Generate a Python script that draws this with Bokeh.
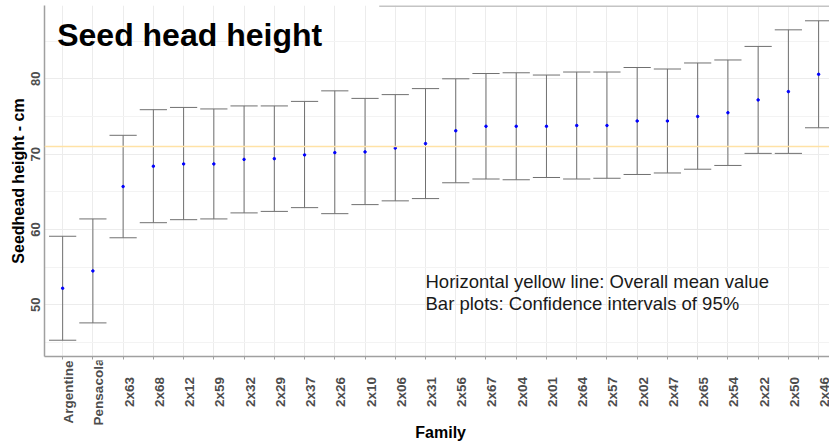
import math
from bokeh.plotting import figure
from bokeh.layouts import column
from bokeh.models import (Range1d, FixedTicker, ColumnDataSource, Label, Span,
                          CustomJSTickFormatter)
from bokeh.embed import file_html
from bokeh.resources import INLINE

# ---- data ----
families = ["Argentine", "Pensacola", "2x63", "2x68", "2x12", "2x59", "2x32", "2x29",
            "2x37", "2x26", "2x10", "2x06", "2x31", "2x56", "2x67", "2x04", "2x01",
            "2x64", "2x57", "2x02", "2x47", "2x65", "2x54", "2x22", "2x50", "2x46"]
means = [52.2, 54.5, 65.7, 68.4, 68.7, 68.7, 69.3, 69.4, 69.9, 70.2, 70.3, 70.8, 71.4,
         73.1, 73.7, 73.7, 73.7, 73.8, 73.8, 74.4, 74.4, 75.0, 75.5, 77.2, 78.3, 80.6]
lower = [45.3, 47.6, 58.9, 60.9, 61.3, 61.4, 62.2, 62.4, 62.9, 62.1, 63.3, 63.8, 64.1,
         66.2, 66.7, 66.6, 66.9, 66.7, 66.8, 67.3, 67.5, 68.0, 68.5, 70.1, 70.1, 73.5]
upper = [59.1, 61.4, 72.5, 75.9, 76.2, 76.0, 76.4, 76.4, 77.0, 78.4, 77.4, 77.9, 78.7,
         80.0, 80.7, 80.8, 80.5, 80.9, 80.9, 81.5, 81.3, 82.1, 82.5, 84.3, 86.5, 87.7]
overall_mean = 71.0
y_ticks = [50, 60, 70, 80]
y_minor_ticks = [45, 55, 65, 75, 85]
title_text = "Seed head height"
x_title = "Family"
y_title = "Seedhead height - cm"
notes = ["Horizontal yellow line: Overall mean value",
         "Bar plots: Confidence intervals of 95%"]

FONT = "Liberation Sans"
TICK_COLOR = "#4d4d4d"
BAR_COLOR = "#707070"
W = 829
H_MAIN = 360
H_STRIP = 85

idx = list(range(len(families)))
half_cap = 0.45
src = ColumnDataSource(dict(
    x=idx, fam=families, m=means, lo=lower, hi=upper,
    x0=[i - half_cap for i in idx], x1=[i + half_cap for i in idx],
))

x_range = Range1d(-0.6, 25.36)
y_range = Range1d(43.14, 89.73)

p = figure(width=W, height=H_MAIN, output_backend="svg", toolbar_location=None,
           x_range=x_range, y_range=y_range,
           min_border_left=44, min_border_right=0, min_border_top=5,
           min_border_bottom=4)
p.outline_line_color = None
p.background_fill_color = "white"
p.border_fill_color = "white"

# grids
p.xaxis.ticker = FixedTicker(ticks=idx)
p.yaxis.ticker = FixedTicker(ticks=y_ticks, minor_ticks=y_minor_ticks)
p.xgrid.grid_line_color = "#ececec"
p.ygrid.grid_line_color = "#ececec"
p.ygrid.minor_grid_line_color = "#f3f3f3"

# x axis: line and ticks here, labels in the strip below
p.xaxis.formatter = CustomJSTickFormatter(code="return ''")
p.xaxis.major_label_text_font_size = "0px"
p.xaxis.major_label_standoff = 0
p.xaxis.axis_line_color = "#a0a0a0"
p.xaxis.axis_line_width = 1.5
p.xaxis.major_tick_line_color = "#a0a0a0"
p.xaxis.major_tick_out = 3
p.xaxis.major_tick_in = 0
p.xaxis.minor_tick_line_color = None

# y axis
p.yaxis.axis_label = y_title
p.yaxis.axis_label_text_font = FONT
p.yaxis.axis_label_text_font_style = "bold"
p.yaxis.axis_label_text_font_size = "16px"
p.yaxis.axis_label_text_color = "black"
p.yaxis.axis_label_standoff = 2
p.yaxis.major_label_orientation = "vertical"
p.yaxis.major_label_text_font = FONT
p.yaxis.major_label_text_font_style = "bold"
p.yaxis.major_label_text_font_size = "13px"
p.yaxis.major_label_text_color = TICK_COLOR
p.yaxis.major_label_standoff = 0
p.yaxis.major_tick_out = 0
p.yaxis.major_tick_in = 0
p.yaxis.minor_tick_line_color = None
p.yaxis.axis_line_color = "#a0a0a0"
p.yaxis.axis_line_width = 1.5

# partial top border (right of the title)
p.segment(x0=10.47, y0=y_range.end, x1=x_range.end, y1=y_range.end,
          line_color="#c4c4c4", line_width=3)

# overall mean line
p.add_layout(Span(location=overall_mean, dimension="width",
                  line_color="#ffe2a6", line_width=1.5))

# confidence interval bars
p.segment(x0="x", y0="lo", x1="x", y1="hi", source=src, line_color=BAR_COLOR, line_width=1)
p.segment(x0="x0", y0="hi", x1="x1", y1="hi", source=src, line_color=BAR_COLOR, line_width=1)
p.segment(x0="x0", y0="lo", x1="x1", y1="lo", source=src, line_color=BAR_COLOR, line_width=1)
p.scatter(x="x", y="m", source=src, marker="circle", size=2.5, color="#0000ff")

# title
p.add_layout(Label(x=-0.18, y=85.8, text=title_text, text_align="left",
                   text_baseline="middle", text_font=FONT, text_font_style="bold",
                   text_font_size="32px", text_color="black"))

# notes
p.add_layout(Label(x=12, y=53.1, text=notes[0], text_align="left",
                   text_baseline="middle", text_font=FONT, text_font_size="18.5px",
                   text_color="#1a1a1a"))
p.add_layout(Label(x=12, y=50.2, text=notes[1], text_align="left",
                   text_baseline="middle", text_font=FONT, text_font_size="18.5px",
                   text_color="#1a1a1a"))

# ---- strip below: centred rotated category labels and x title ----
p2 = figure(width=W, height=H_STRIP, output_backend="svg", toolbar_location=None,
            x_range=x_range, y_range=Range1d(0, H_STRIP), x_axis_type=None,
            y_axis_type=None, min_border_left=44, min_border_right=0,
            min_border_top=0, min_border_bottom=0)
p2.outline_line_color = None
p2.xgrid.visible = False
p2.ygrid.visible = False
p2.background_fill_color = "white"
p2.border_fill_color = "white"

p2.text(x="x", y=H_STRIP - 31.5, text="fam", source=src, angle=math.pi / 2,
        text_align="center", text_baseline="top", x_offset=-1.5,
        text_font={"value": FONT}, text_font_style="bold", text_font_size="13.5px",
        text_color=TICK_COLOR)
p2.text(x=[(len(families) - 1) / 2], y=[H_STRIP - 71.8], text=[x_title],
        text_align="center", text_baseline="middle", text_font={"value": FONT},
        text_font_style="bold", text_font_size="16px", text_color="black")

layout = column(p, p2, spacing=0)
open("out.html", "w").write(file_html(layout, INLINE))
